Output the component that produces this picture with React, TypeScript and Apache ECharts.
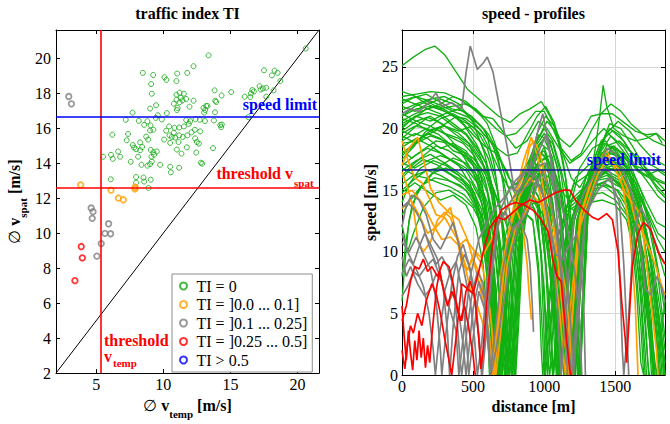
import React, { useEffect, useRef } from "react";
import * as echarts from "echarts";

type Pt = [number, number];

// ---------------- Left panel: traffic index TI ----------------
// [mean temporal speed, mean spatial speed] in m/s
const tiZero: Pt[] = [
  [13.37, 20.15], [12.25, 19.53], [8.47, 19.15], [9.24, 19.03], [10.08, 18.9], [10.23, 18.75], [11.03, 19.11], [10.98, 18.68],
  [11.78, 19.15], [9.09, 18.51], [9.14, 17.96], [10.98, 17.9], [11.21, 18.01], [11.53, 17.96], [11.3, 17.73], [11.7, 17.66],
  [11.43, 17.58], [10.98, 17.62], [10.78, 17.39], [11.21, 17.47], [11.06, 17.15], [11.01, 17.03], [11.95, 17.22], [12.25, 17.56],
  [12.99, 17.15], [13.12, 17.03], [13.29, 17.26], [13.04, 16.88], [12.72, 16.47], [12.4, 16.51], [12.0, 16.39], [11.7, 16.45],
  [11.9, 16.24], [11.53, 16.09], [11.18, 16.03], [10.83, 16.01], [10.43, 16.09], [10.26, 16.85], [9.46, 17.3], [9.01, 17.11],
  [7.7, 16.88], [7.2, 16.47], [8.17, 16.41], [8.57, 16.18], [9.04, 16.15], [8.81, 16.39], [9.44, 16.58], [9.59, 16.73],
  [9.89, 16.49], [9.01, 15.86], [9.26, 15.9], [10.21, 15.85], [10.78, 15.73], [10.63, 15.49], [10.51, 15.15], [10.88, 15.45],
  [11.18, 15.58], [11.45, 15.49], [11.78, 15.58], [12.1, 15.75], [12.35, 15.9], [12.75, 15.81], [12.37, 15.41], [12.65, 15.11],
  [11.13, 15.2], [11.01, 14.77], [11.35, 14.54], [10.46, 15.58], [10.06, 15.34], [8.72, 15.51], [8.87, 15.34], [8.27, 15.18],
  [7.37, 15.66], [7.27, 15.3], [6.2, 15.62], [7.72, 15.03], [7.82, 14.88], [7.97, 14.79], [8.27, 14.73], [8.42, 14.92],
  [8.12, 14.36], [9.06, 14.75], [9.26, 14.62], [9.51, 14.66], [9.31, 14.47], [9.11, 14.36], [9.14, 14.09], [9.01, 13.94],
  [8.82, 13.85], [8.37, 13.9], [7.57, 14.07], [9.76, 13.9], [10.51, 13.79], [10.56, 13.47], [11.18, 13.73], [12.89, 13.96],
  [6.63, 14.66], [6.78, 14.36], [6.1, 14.47], [6.23, 14.24], [5.51, 14.36], [6.08, 13.07], [7.97, 13.2], [8.52, 13.17],
  [9.06, 13.05], [7.97, 12.88], [8.57, 12.94], [8.89, 12.58], [20.61, 20.54], [17.5, 19.3], [18.29, 19.28], [18.52, 19.15],
  [18.09, 19.01], [18.72, 18.69], [17.17, 18.39], [17.25, 18.2], [17.42, 18.26], [17.67, 18.3], [16.63, 18.17], [16.75, 18.09],
  [16.53, 17.98], [16.48, 17.77], [16.06, 17.79], [17.67, 17.79], [18.22, 18.15], [15.06, 18.05], [13.82, 18.15], [14.34, 17.86],
  [13.87, 17.56], [13.94, 17.49], [13.77, 16.43], [16.33, 16.62], [14.24, 16.17], [14.31, 16.05], [14.36, 16.2], [13.7, 14.85],
  [12.8, 14.02], [13.1, 16.4], [13.85, 16.9], [13.19, 17.26], [12.5, 15.2], [12.45, 14.6], [11.75, 14.9],
];
const tiLow: Pt[] = [[3.84, 12.75], [6.1, 12.45], [6.65, 12.0], [7.02, 11.9], [7.9, 12.62], [7.88, 12.52]];
const tiMid: Pt[] = [
  [2.95, 17.8], [3.15, 17.38], [4.62, 11.43], [4.76, 11.22], [4.7, 10.84],
  [5.05, 8.68], [5.37, 9.4], [5.65, 9.98], [6.07, 9.96], [5.92, 10.53],
];
const tiHigh: Pt[] = [[3.88, 9.23], [3.96, 8.58], [3.41, 7.28]];
const tiTop: Pt[] = [];

const legendNames = ["TI = 0", "TI = ]0.0 ... 0.1]", "TI = ]0.1 ... 0.25]", "TI = ]0.25 ... 0.5]", "TI > 0.5"];

const leftRange = [2, 21.6];
const leftXTicks = [5, 10, 15, 20];
const leftYTicks = [2, 4, 6, 8, 10, 12, 14, 16, 18, 20];
const vTempThreshold = 5.3;
const vSpatThreshold = 12.6;
const speedLimit = 16.67;

// ---------------- Right panel: speed profiles [distance m, speed m/s] ----------------
const greenProfiles: Pt[][] = [
  [[0,19.2],[90,20.1],[180,20.9],[280,20.4],[380,19.5],[470,18.8],[550,16.5],[610,12],[660,5],[690,0],[720,4],[770,10.5],[840,15],[920,17.5],[990,16.2],[1050,11],[1090,3],[1110,0],[1150,7],[1220,13.5],[1310,16.5],[1420,17.8],[1530,16.8],[1620,14],[1700,9],[1760,3],[1790,0],[1830,4],[1850,6]],
  [[0,21.5],[100,22],[200,22.4],[300,22.6],[400,22],[500,20.5],[580,18],[640,15],[700,10],[740,4],[770,0],[790,3],[830,10],[880,15],[950,18.5],[1020,19.5],[1090,17],[1150,13],[1200,7],[1230,1],[1250,0],[1275,5],[1310,13.5],[1390,17],[1480,18.5],[1570,17],[1650,15],[1730,13],[1800,11],[1850,10]],
  [[0,17.5],[80,18.5],[170,19.8],[260,20.1],[350,19],[440,17.6],[520,16],[590,12.5],[630,7],[655,1],[670,0],[700,5],[750,11],[810,14.5],[880,16],[960,14.5],[1010,9],[1040,2],[1060,0],[1100,6],[1170,13],[1250,16.8],[1340,18.4],[1430,19],[1520,17.5],[1600,13],[1650,7],[1680,1],[1700,0]],
  [[0,22.6],[100,22.8],[200,23],[300,22.9],[400,22.4],[480,21.8],[560,21],[640,20.8],[720,19.6],[800,18.4],[880,19],[960,20.6],[1020,20],[1100,18.5],[1180,17.2],[1260,17.8],[1340,19],[1420,20],[1500,19],[1580,17.8],[1660,16.5],[1740,16],[1850,15.5]],
  [[0,25.1],[80,25.8],[160,26.4],[230,26.7],[300,26],[380,24.6],[460,23.2],[530,22.5],[600,21.8],[680,21],[760,20.5],[830,21.2],[900,21.6],[980,22.2],[1040,21],[1110,19.2],[1180,18.5],[1260,19.6],[1330,21],[1400,21.2],[1480,21.2],[1560,20.5],[1640,19.8],[1720,19.5],[1790,19.6],[1850,19]],
  [[0,20],[90,21],[180,21.3],[270,21],[360,20.2],[450,19.5],[540,18],[610,16],[670,12],[720,6],[750,2],[770,0],[790,4],[840,11],[900,15.5],[980,18],[1050,17],[1110,13],[1160,6],[1190,0],[1220,5],[1280,13.2],[1370,16],[1460,17.2],[1550,16],[1630,12],[1680,6],[1710,0]],
  [[0,18.5],[100,19.2],[200,18.6],[300,17.8],[400,17],[480,15.5],[550,12.5],[600,8],[630,2],[645,0],[670,4],[720,10],[790,13.5],[860,14],[930,13.5],[980,10],[1010,4],[1025,0],[1060,6],[1130,12.5],[1210,15.5],[1300,16.2],[1390,16.8],[1480,16],[1570,15],[1650,13.6],[1720,12.5],[1790,10.5],[1850,8]],
  [[0,16],[70,16.8],[150,17.5],[240,17.1],[330,16.4],[420,15.8],[510,14.8],[580,12],[620,7],[650,2],[665,0],[690,3],[740,9],[810,13],[870,15.5],[940,16],[1010,14],[1080,12.5],[1140,8],[1180,3],[1200,0],[1230,5],[1290,13],[1380,15.4],[1470,16],[1560,15],[1640,12.5],[1720,9],[1780,4],[1810,0]],
  [[0,21],[100,21.6],[200,21.8],[300,21.4],[400,20.8],[500,19.5],[580,18.6],[660,18],[740,16.5],[800,14.5],[860,15],[930,17.2],[1000,18.5],[1070,16],[1130,11],[1170,5],[1195,0],[1220,4],[1270,12],[1320,15.5],[1400,18],[1490,18.6],[1580,17.5],[1660,15],[1740,13],[1800,11.5],[1850,11]],
  [[0,19.8],[80,19.4],[170,20],[260,19.5],[350,18.6],[440,18],[520,17],[590,15.5],[650,12],[700,7.5],[740,2],[755,0],[780,3],[820,10],[870,14.2],[940,16.5],[1010,15.6],[1070,12],[1120,6],[1150,1],[1165,0],[1200,6],[1260,13.5],[1340,17],[1420,18.8],[1510,18.2],[1600,16.5],[1680,14],[1750,9],[1800,3],[1820,0]],
  [[0,14],[50,15.5],[130,16.8],[220,17.4],[310,17],[400,16.2],[480,15],[550,13],[610,9],[650,4],[675,0],[700,2],[750,8.5],[810,12.5],[880,13.8],[950,14],[1000,11],[1040,5],[1065,0],[1100,4],[1160,11],[1240,14.5],[1330,15.2],[1420,15.6],[1510,15],[1590,13.5],[1660,10],[1710,4],[1735,0]],
  [[0,20.8],[100,20.4],[190,19.8],[280,20.2],[370,20.9],[460,20.4],[540,19.2],[610,17.5],[670,15],[720,11],[755,4],[775,0],[795,5],[830,12],[880,16.5],[960,19.5],[1040,19],[1100,16.5],[1150,12],[1200,5],[1220,0],[1250,6],[1300,14],[1380,17.8],[1470,19.4],[1560,18.5],[1640,17],[1720,15.8],[1800,14.5],[1850,14]],
  [[0,17],[90,17.8],[180,18.4],[270,18],[360,17.3],[450,16.6],[530,15],[600,12.5],[650,8],[690,2.5],[705,0],[730,5],[780,11.5],[840,14.5],[910,15.4],[980,14],[1040,9.5],[1080,3],[1095,0],[1130,5],[1190,12],[1260,14.5],[1350,16],[1440,16.4],[1530,15.8],[1620,14.6],[1700,12],[1770,8],[1830,3],[1850,1]],
  [[0,22.2],[90,22.6],[180,22.3],[270,21.9],[360,21.4],[450,21],[540,20.4],[610,19.5],[680,18],[740,15.5],[800,13.5],[860,14.2],[930,16],[1000,16.8],[1060,14],[1110,8],[1140,2],[1150,0],[1180,4],[1240,12],[1300,15],[1380,17],[1470,17.5],[1560,16.8],[1650,15.5],[1720,13],[1790,9],[1840,4],[1850,3]],
  [[0,18.2],[70,17.6],[150,18.3],[240,19],[330,18.8],[420,18],[500,17],[570,14.5],[620,10],[655,4],[670,0],[695,5],[740,11],[800,14],[870,15],[950,13],[1000,7],[1030,1],[1040,0],[1075,6],[1140,13],[1220,16],[1310,17],[1400,17.6],[1490,17],[1580,15.6],[1650,12.5],[1700,7],[1730,1],[1740,0]],
  [[0,15.5],[80,16.2],[170,16],[260,15.6],[350,15.2],[440,14.6],[520,13.5],[580,11],[620,6.5],[640,2],[650,0],[680,5],[730,10.5],[790,13],[860,13.2],[920,12.5],[960,9],[990,3],[1000,0],[1030,5],[1090,11],[1170,14],[1260,15],[1350,15.6],[1440,15.2],[1530,14.3],[1610,12.5],[1670,8],[1710,2],[1720,0]],
  [[0,20.4],[100,21],[200,20.6],[300,21.2],[400,21.6],[490,21],[570,20],[640,18.6],[710,16],[770,12.5],[820,11.5],[880,13],[950,16],[1020,17.2],[1090,15],[1150,10],[1190,4],[1210,0],[1240,4],[1290,13],[1370,16.5],[1460,18],[1550,17.6],[1640,16],[1720,14],[1790,12.4],[1850,12]],
  [[0,19],[90,19.6],[180,19.2],[270,18.4],[360,18.8],[450,18.2],[530,16.8],[600,14.8],[650,11],[690,6],[720,1.5],[730,0],[755,4],[800,11],[860,14.6],[940,17],[1010,17.6],[1080,15.2],[1130,10.6],[1170,4.5],[1185,0],[1215,5],[1270,13.2],[1350,16],[1440,16.6],[1530,16],[1620,13.8],[1690,10],[1750,5],[1780,0]],
  [[0,13],[60,14.2],[140,15.4],[230,16],[320,15.8],[410,15.4],[490,14.5],[560,13],[620,10],[660,5.5],[685,1],[695,0],[720,4],[770,10],[830,13.4],[900,14.6],[970,13.2],[1020,8],[1055,2],[1065,0],[1100,5],[1160,11.5],[1230,14],[1320,14.6],[1410,14.8],[1500,14.2],[1580,13],[1650,10.5],[1710,6],[1760,1],[1775,0]],
  [[0,21.8],[90,21.4],[180,22],[270,22.4],[360,22],[450,21.2],[530,20.2],[600,19.2],[670,18.4],[740,17.8],[810,18],[880,19.5],[950,21],[1010,21.8],[1070,20.5],[1130,18],[1190,16],[1250,15.2],[1320,16.6],[1390,18.6],[1460,20],[1530,19.5],[1600,18.2],[1680,17.4],[1760,17],[1850,16.4]],
  [[0,17.8],[80,18.6],[160,19.4],[250,19.9],[340,19.3],[430,18.8],[510,17.8],[580,16],[640,13],[690,8],[720,3],[735,0],[760,3.5],[800,10.5],[850,14],[920,16],[990,15.2],[1050,12.5],[1100,7],[1130,1],[1140,0],[1170,5],[1230,12.5],[1300,15.4],[1390,16.6],[1480,17],[1570,16.2],[1650,13],[1710,8],[1760,2],[1770,0]],
  [[0,16.6],[100,17.4],[200,17.9],[300,17.2],[400,16.4],[490,15.6],[560,14],[610,11.2],[650,6],[670,2],[680,0],[710,4.5],[760,10],[820,13.2],[890,14.4],[960,13.8],[1020,10.5],[1070,5],[1100,0],[1135,5],[1200,12.4],[1280,15],[1370,15.8],[1460,16],[1550,15.5],[1630,13.2],[1690,9],[1740,3],[1755,0]],
  [[0,22],[80,22.5],[170,22.8],[260,22.2],[350,21.6],[440,21.4],[520,20.6],[590,19.8],[650,17],[700,12.5],[740,6.5],[770,1],[780,0],[800,3.5],[830,10.5],[880,15.5],[950,19],[1020,20.6],[1090,19.6],[1150,16],[1200,10],[1230,3],[1245,0],[1270,5],[1310,13.5],[1380,18],[1460,20.4],[1540,20],[1620,18.6],[1700,17],[1780,15.5],[1850,14.6]],
  [[0,12.2],[40,10],[80,11.5],[150,13.6],[240,14.8],[330,15],[420,14.4],[500,13.6],[570,12],[620,8.5],[650,3],[660,0],[690,4],[740,9.8],[800,12.5],[860,13.2],[920,12.6],[960,8],[980,2],[990,0],[1020,5],[1080,10.5],[1150,13.2],[1230,13.8],[1320,14],[1410,14.2],[1500,13.8],[1580,12.6],[1640,9.5],[1680,4],[1700,0]],
  [[0,8],[30,11],[70,13.8],[130,15.2],[220,16.4],[310,16.8],[400,16.2],[490,15.2],[560,13.4],[610,10],[640,5],[660,1],[665,0],[695,5],[745,10.8],[810,14],[880,16],[960,16.6],[1030,14.4],[1080,9],[1110,3],[1120,0],[1155,6],[1220,13.4],[1300,16.2],[1390,17.2],[1480,17.4],[1570,16.4],[1650,13.4],[1710,8.5],[1750,3],[1765,0]],
  [[0,6],[20,9],[50,12.6],[100,14.6],[180,16],[270,17],[360,17.6],[450,17.2],[530,16.2],[600,14],[650,10.5],[690,5.5],[710,1.5],[720,0],[745,4.5],[790,11],[850,14.5],[920,16.8],[990,17],[1060,13.6],[1110,8],[1145,2],[1155,0],[1185,5],[1245,13],[1320,16.4],[1410,18],[1500,18],[1590,16.6],[1670,13.6],[1730,9],[1790,3.5],[1810,0]],
  [[0,19.6],[90,20.2],[180,20],[270,20.8],[360,21.2],[450,20.6],[530,19.8],[600,18.4],[660,16],[710,12],[750,7],[780,2],[790,0],[810,4.5],[845,12],[900,16],[970,18.8],[1040,18.2],[1100,15],[1150,9.5],[1190,3],[1205,0],[1235,5.5],[1290,13.8],[1360,18.4],[1390,21],[1415,23.5],[1440,21.8],[1490,20],[1560,19.4],[1640,19],[1720,19.2],[1790,19.6],[1830,18.8]],
  [[0,18.8],[100,19],[200,19.8],[300,20.2],[400,19.6],[490,18.6],[560,17.4],[620,15.8],[680,14],[740,12],[790,10.5],[840,11.5],[900,14],[970,16.5],[1040,16],[1100,13.5],[1150,9],[1190,3.5],[1205,0],[1230,3],[1275,11],[1320,14.6],[1400,16.2],[1490,16.8],[1580,16.4],[1660,14],[1730,10.5],[1790,6],[1840,1.5],[1850,0]],
  [[0,20.6],[90,21.2],[180,21.6],[270,21.2],[360,20.4],[450,19.6],[530,18.4],[600,17],[650,14.5],[690,10.5],[720,5],[745,0],[770,5],[810,12],[860,16],[930,18.6],[1000,20],[1060,19],[1120,16.6],[1180,13.6],[1230,13.2],[1300,15],[1380,17.4],[1470,18.6],[1560,18],[1640,16.8],[1720,16.2],[1800,16.6],[1850,16.2]],
  [[0,16.8],[90,16.2],[180,16.6],[270,16.2],[360,15.6],[450,15],[520,13.6],[570,11],[610,6.5],[635,1.5],[645,0],[670,4],[715,9.6],[780,12.6],[850,13.8],[920,14.6],[990,13],[1040,8.5],[1075,2],[1085,0],[1120,5],[1180,11.4],[1250,14],[1340,15],[1430,15.4],[1520,15],[1600,13.8],[1660,11],[1720,7],[1760,2],[1775,0]],
  [[0,23],[80,22.7],[170,22],[260,21.6],[350,21.8],[440,22],[520,21.6],[590,20.8],[660,20],[730,19.4],[800,19.6],[870,20.4],[940,21.4],[1000,21.4],[1060,20],[1120,18.4],[1190,17.4],[1260,18],[1330,19.8],[1400,21.2],[1470,22],[1540,21.4],[1610,20.4],[1690,19.6],[1770,19],[1850,18.6]],
  [[0,19.4],[100,18.8],[200,19.4],[300,19],[400,18.4],[500,17.6],[570,16.6],[640,15.2],[700,13],[750,9.5],[780,4.5],[800,0],[820,4],[850,11],[900,15],[970,17.4],[1040,17.8],[1100,15.6],[1160,11.4],[1210,5],[1235,0],[1260,4],[1300,12.8],[1370,15.8],[1460,16.8],[1550,16.2],[1630,14.8],[1700,12.6],[1760,9.6],[1820,5],[1850,2]],
  [[0,14.8],[90,15.6],[180,14.9],[270,14.2],[360,14.6],[450,13.8],[520,12],[570,9],[600,4.5],[615,0],[640,4],[690,9.5],[760,12.8],[830,14],[900,15.2],[950,14],[980,9],[1000,3],[1010,0],[1040,4],[1100,10.5],[1180,13.6],[1270,14.6],[1360,15.4],[1450,15.8],[1540,15.2],[1620,14],[1690,11.6],[1750,8],[1800,4],[1830,0]],
  [[0,21.2],[100,20.6],[200,21],[300,20.2],[400,19.8],[490,20.2],[570,19.4],[630,18],[690,16.5],[750,15.2],[810,15.6],[870,17],[940,18],[1010,17.8],[1070,16.2],[1130,14.8],[1190,14],[1250,14.6],[1320,16],[1400,17.6],[1480,18],[1560,17.6],[1640,17],[1720,16.6],[1800,15.6],[1850,15]],
  [[0,18],[90,18.8],[180,19.6],[270,19.2],[360,18.2],[450,17.8],[530,16.6],[590,14],[640,9.5],[670,4],[685,0],[710,4.5],[760,11],[820,14.8],[890,16.8],[960,17.8],[1030,16.4],[1090,11.5],[1130,5],[1150,0],[1180,4.5],[1240,12.8],[1310,15.8],[1400,17],[1490,17.6],[1580,16.8],[1660,14.6],[1730,11],[1790,6.5],[1840,1],[1850,0]],
  [[0,20.2],[80,20.8],[170,21.6],[260,21.8],[350,21.2],[440,20.2],[520,18.8],[590,17.2],[650,14],[700,9],[730,3.5],[745,0],[770,3],[810,10],[860,15],[930,18],[1000,19.2],[1060,17.6],[1110,13],[1150,7],[1175,1],[1185,0],[1215,4],[1265,12.5],[1320,16.6],[1400,19],[1480,19.8],[1560,19],[1640,17.6],[1720,16.4],[1800,15],[1850,14.4]],
  [[0,15],[80,15.8],[170,16.6],[260,16.8],[350,16.2],[440,15.4],[510,14.4],[570,12.6],[620,9],[655,3.5],[670,0],[700,4],[750,10.4],[810,13.6],[880,15.2],[950,15.6],[1010,13],[1060,7.5],[1090,2],[1100,0],[1130,4],[1190,11.8],[1260,14.6],[1350,15.8],[1440,16.2],[1530,15.6],[1610,13.8],[1670,10.5],[1720,6],[1760,1.5],[1770,0]],
  [[0,22.4],[90,22],[180,21.6],[270,22],[360,22.6],[450,22.2],[530,21.4],[600,20.4],[660,18.6],[710,15.6],[750,11],[780,5],[795,0],[815,4],[845,11.5],[890,16.4],[950,19.6],[1010,21],[1070,20.2],[1130,17.6],[1180,13.8],[1220,8],[1245,2],[1255,0],[1280,6],[1310,13.6],[1370,17.4],[1440,19.6],[1520,20.6],[1600,19.8],[1680,18.6],[1760,17.6],[1850,17]],
  [[0,19.8],[100,20.6],[200,20.2],[300,19.6],[400,19.2],[490,18.4],[570,17],[630,14.6],[680,10.6],[715,5],[740,0],[765,4],[805,11],[860,15.4],[930,17.6],[1000,18.2],[1060,16.4],[1110,12.6],[1150,6.6],[1170,1.5],[1178,0],[1205,4.5],[1260,12.8],[1330,16.2],[1420,17.8],[1510,18.4],[1600,17.2],[1680,15],[1750,12],[1810,8],[1850,5]],
  [[0,17.2],[90,16.8],[180,17.4],[270,17.8],[360,17.4],[450,16.8],[530,15.6],[600,13],[650,8.5],[680,3],[692,0],[720,4.8],[770,11],[830,14],[900,15.8],[970,16],[1030,13.2],[1070,8],[1100,2.5],[1110,0],[1140,4.5],[1200,12],[1270,15],[1360,16.2],[1450,16.8],[1540,16.4],[1620,15],[1690,12.6],[1750,9],[1800,4.6],[1840,0]],
  [[0,21],[90,21.8],[180,22.2],[270,21.6],[360,21],[450,20.8],[540,20],[620,19],[690,17.6],[750,16],[800,15.4],[860,16.6],[930,18.4],[1000,19.6],[1060,18.8],[1120,16.2],[1170,12],[1210,6.5],[1235,1.5],[1242,0],[1265,5],[1300,13.4],[1360,16.8],[1440,18.6],[1530,19],[1620,18],[1700,17],[1780,16],[1850,15.6]],
  [[0,16.2],[70,17],[150,17.8],[240,18.6],[330,18.2],[420,17.4],[500,16.4],[570,14.6],[620,11.6],[660,6.5],[685,2],[695,0],[725,4],[775,10.6],[835,14.2],[900,15.8],[970,16.2],[1040,14.8],[1090,10],[1125,4],[1140,0],[1170,4],[1230,12.6],[1300,15.6],[1390,16.8],[1480,17.2],[1570,16.6],[1650,14.6],[1720,11.6],[1780,7],[1830,2.5],[1845,0]],
];

const orangeProfiles: Pt[][] = [
  [[0,17],[50,18.4],[110,19.3],[150,17.5],[200,15.2],[260,14],[330,13.2],[400,12.6],[460,11],[520,8.5],[570,6],[610,3.5],[640,0.5],[650,0],[680,4],[730,10],[790,14],[850,17.2],[910,19.3],[960,17.5],[1010,14],[1060,11.2],[1100,9],[1140,4],[1165,0],[1190,4],[1260,13],[1330,15.6],[1400,17.6],[1440,18.2],[1490,17],[1550,15.4],[1600,12],[1640,6],[1660,0]],
  [[0,16.5],[40,15.2],[80,13.5],[110,11],[150,10],[200,10.8],[250,12.6],[300,13.2],[340,12.8],[390,11.2],[430,9.5],[460,8.5],[500,9.5],[550,8],[590,5.5],[620,2],[640,0],[680,5],[740,11],[800,13.6],[850,12],[880,9],[895,6.5],[910,4.5]],
  [[0,13.5],[60,14.2],[120,13],[180,11.5],[240,12],[300,12.8],[360,11.6],[400,10.8],[440,9],[480,7],[520,6],[560,4.5],[600,3],[630,1],[640,0],[660,3],[700,8.6],[760,12.2],[830,14.6],[900,16],[960,15.2],[1020,12.4],[1070,8.8],[1110,5],[1140,1],[1150,0],[1180,5],[1240,11.6],[1300,13.8],[1380,16.4],[1450,17.6],[1520,16.8],[1590,15],[1640,12.6],[1700,11.4],[1740,10.2],[1780,9],[1820,7.5],[1850,6.5]],
  [[0,19],[40,17.5],[90,16],[140,15.6],[190,14.4],[240,13],[290,12.8],[340,13.6],[380,11.6],[420,9],[460,8.5],[510,10],[560,9],[600,7],[630,4],[650,1],[660,0],[690,3],[740,9],[800,12],[860,13],[920,14.6],[980,13.8],[1030,12.2],[1070,11.8],[1110,9.6],[1150,7],[1185,3],[1200,0]],
  [[0,14.6],[70,15],[140,14],[210,12.4],[280,11],[340,11.2],[400,10.5],[450,11],[500,10.2],[560,9.5],[620,10.8],[680,12.2],[740,13.5],[800,14.8],[850,16],[900,18.6],[930,19],[970,18],[1010,16],[1060,13],[1100,9],[1130,5],[1160,1],[1170,0],[1200,5],[1250,12.8],[1320,15.4],[1380,17],[1420,18],[1470,17.4],[1520,16.2],[1570,14.8],[1620,14],[1680,13],[1720,9],[1760,5],[1790,2],[1800,0]],
];

const grayProfiles: Pt[][] = [
  [[0,21.2],[60,21.6],[120,21.4],[180,22],[240,22.9],[280,21.8],[350,22.1],[420,21.6],[450,24.5],[480,26.7],[530,24.8],[570,25.3],[600,25.8],[640,24.6],[690,21.5],[740,18.5],[790,15],[840,16],[900,17],[960,20],[990,21.2],[1030,19],[1080,14],[1120,9],[1160,4],[1190,0],[1230,5],[1290,13],[1380,15],[1460,16],[1530,14],[1560,9],[1580,4],[1595,0]],
  [[0,13.6],[40,14],[90,13.4],[140,12.4],[190,10.5],[240,9],[280,9.6],[320,8.8],[360,7.2],[390,4],[410,1],[420,0],[450,3],[490,6.4],[530,8.4],[570,7.5],[600,4],[620,0],[650,3],[700,8],[750,11],[800,12.2],[850,12.6],[900,13.6],[950,15.4],[990,16.6],[1030,15],[1080,12],[1120,8],[1150,3],[1165,0]],
  [[0,9.6],[30,8],[60,8.8],[110,7.4],[160,6.4],[200,7],[240,8.2],[280,7.6],[320,5.8],[360,6.6],[400,5],[430,2.5],[450,0],[470,2],[500,5.4],[540,7.6],[580,6.2],[610,3],[625,0]],
  [[0,11.5],[40,10],[80,9],[120,10.4],[160,11.5],[200,10.6],[250,9.4],[290,7],[320,3.5],[335,0],[360,4],[400,8.4],[440,9.8],[480,8.6],[520,5.8],[550,2],[565,0],[590,3],[630,8],[680,12.4],[730,13.2],[780,11.8],[830,12.4],[880,14],[930,15.6],[980,15.2],[1030,12.6],[1080,9.8],[1130,9.4],[1180,10.6],[1230,11.4],[1260,9],[1280,5],[1290,0]],
  [[0,6.4],[40,7.2],[80,8.4],[120,8],[170,8.8],[220,9.4],[260,8.2],[300,6.8],[340,8.4],[380,9.2],[420,7],[450,3.5],[470,0],[500,3],[540,6.8],[580,5.4],[610,2],[625,0],[660,2],[710,5.5],[770,10],[830,12.6],[880,11],[900,9],[915,6],[925,3.5]],
  [[0,12],[30,13.8],[70,14.6],[120,14.2],[170,13],[220,11],[270,10.2],[320,11.4],[360,12.4],[400,10.6],[440,8.2],[480,6],[510,3],[530,0],[560,2.5],[600,7.8],[650,11.6],[700,12.8],[760,14],[820,15],[880,16],[930,17.4],[980,18.6],[1010,19.5],[1040,18],[1090,15],[1140,13],[1180,11],[1220,8],[1250,4],[1265,0]],
  [[0,10.8],[50,10],[100,11.2],[150,9.8],[200,8.6],[240,6],[270,2],[280,0],[310,3.5],[350,7.4],[390,9.6],[430,10.6],[470,9],[510,6.6],[540,3],[560,0],[600,5],[650,10.6],[700,13.6],[760,15.2],[830,14.8],[900,15.6],[960,17],[1010,17.2],[1060,15.6],[1110,12.6],[1160,8],[1190,3.5],[1205,0],[1240,5],[1290,13],[1360,15.4],[1420,16.8],[1470,16.4],[1510,13.4],[1535,7],[1550,2],[1560,0],[1590,4],[1630,11.6],[1680,13.6],[1730,12.4],[1780,10.8],[1820,9.6],[1850,9]],
  [[0,8.2],[50,9.4],[100,8.6],[150,7.2],[190,5],[220,2],[235,0],[260,3],[300,6.4],[340,5.2],[380,3.6],[400,0],[430,3],[480,8],[540,11],[600,12.4],[660,13.6],[720,14.4],[800,15.8],[870,16.6],[940,16],[1000,14.4],[1050,11],[1090,6],[1110,2],[1120,0],[1150,5],[1210,12.8],[1280,14.8],[1360,16.4],[1440,18.4],[1500,18],[1560,16.4],[1620,14.6],[1670,11],[1710,7],[1750,6.5],[1790,8],[1830,7],[1850,6]],
];

const redProfiles: Pt[][] = [
  [[0,5.6],[15,3.2],[30,1.2],[45,3.6],[60,1.8],[75,0.4],[90,2.8],[105,1.2],[120,3.6],[135,1.4],[150,3],[165,0.6],[180,2.4],[195,1],[210,3.2],[225,5],[245,7.2],[265,8.4],[290,7],[320,5.6],[350,6.8],[380,6],[410,4.4],[440,5.6],[470,3.8],[500,1.6],[515,0]],
  [[0,4.4],[30,5.6],[60,7.6],[90,8.8],[120,8.6],[150,9.4],[180,8.4],[210,8.8],[250,8],[290,9.2],[330,8.8],[360,7.4],[390,5.2],[420,4.4],[450,6.8],[480,7.6],[510,6.4],[540,3],[555,0.5],[570,2],[600,6.4],[630,10],[660,12.4],[700,13.4],[750,13.8],[800,14],[860,13.8],[920,13.4],[980,12.6],[1030,11.6],[1060,9.4],[1090,8],[1120,7.6],[1140,5],[1160,2.6],[1180,0.4],[1190,0]],
  [[0,2],[20,0.5],[40,2.6],[60,4],[80,3.4],[110,5],[140,4],[170,6],[210,7.4],[240,6.6],[270,5],[300,3],[330,1.2],[350,0],[380,3],[420,7.4],[460,7],[500,6.6],[540,8.4],[580,10.4],[620,12],[670,12.8],[720,12.6],[780,13.2],[840,13.8],[900,14.2],[960,14],[1020,14.4],[1080,14.8],[1140,15],[1180,15],[1220,14.2],[1280,13.4],[1340,12.8],[1380,12.6],[1440,13.1],[1480,12.6],[1520,10],[1545,6],[1570,3],[1580,1],[1595,4],[1620,8.8],[1660,11.5],[1700,12.4],[1750,11.8],[1800,10],[1850,9]],
];

const rightXRange = [0, 1850];
const rightYRange = [0, 28];

// ---------------- styling ----------------
const FONT = '"Liberation Serif", "Times New Roman", serif';
const BLACK = "#000";
const GREEN = "#12b012";
const ORANGE = "#ffa000";
const GRAY = "#808080";
const RED = "#ff0000";
const BLUE = "#0000ff";

const nameRich = {
  n: { fontFamily: FONT, fontSize: 16, fontWeight: "normal", color: BLACK, lineHeight: 18, verticalAlign: "top" },
  b: { fontFamily: FONT, fontSize: 16, fontWeight: "bold", color: BLACK, lineHeight: 18, verticalAlign: "top" },
  s: { fontFamily: FONT, fontSize: 11, fontWeight: "bold", color: BLACK, padding: [11, 0, 0, 0], verticalAlign: "bottom" },
};

function frameAxis(gridIndex: number, position: string, range: number[], extra: any) {
  const base: any = {
    type: "value",
    gridIndex,
    position,
    min: range[0],
    max: range[1],
    axisLine: { show: true, onZero: false, lineStyle: { color: BLACK, width: 1 } },
    axisTick: { show: true, inside: true, length: 4, lineStyle: { color: BLACK, width: 1 } },
    axisLabel: { show: false },
    splitLine: { show: false },
  };
  return { ...base, ...extra };
}

const tickLabel = { show: true, fontFamily: FONT, fontSize: 16, color: BLACK, formatter: (v: number) => String(v) };

function buildOption() {
  const profileSeries = (profiles: Pt[][], color: string, width: number, tag: string, z: number) =>
    profiles.map((data, i) => ({
      type: "line",
      name: `${tag}-${i}`,
      xAxisIndex: 2,
      yAxisIndex: 2,
      data,
      symbol: "none",
      showSymbol: false,
      silent: true,
      z,
      emphasis: { disabled: true },
      lineStyle: { color, width },
      itemStyle: { color },
    }));

  const scatter = (name: string, data: Pt[], color: string, bw: number, size: number) => ({
    type: "scatter",
    name,
    xAxisIndex: 0,
    yAxisIndex: 0,
    data,
    symbol: "circle",
    symbolSize: size,
    silent: true,
    z: 4,
    itemStyle: { color: "rgba(0,0,0,0)", borderColor: color, borderWidth: bw },
  });

  const textEl = (text: string, x: number, y: number, fontSize: number, color: string, align: string) => ({
    type: "text",
    x,
    y,
    silent: true,
    z: 50,
    style: {
      text,
      font: `bold ${fontSize}px ${FONT}`,
      fill: color,
      align,
      textAlign: align,
      verticalAlign: "middle",
      textVerticalAlign: "middle",
    },
  });

  return {
    animation: false,
    backgroundColor: "#fff",
    grid: [
      { left: 56, top: 30, width: 263, height: 345, containLabel: false },
      { left: 402, top: 30, width: 263, height: 345, containLabel: false },
    ],
    xAxis: [
      frameAxis(0, "bottom", leftRange, {
        axisTick: { show: true, inside: true, length: 4, customValues: leftXTicks, lineStyle: { color: BLACK } },
        axisLabel: { ...tickLabel, customValues: leftXTicks, margin: 3 },
        name: "{n|\u2205 }{b|v}{s|temp}{b| [m/s]}",
        nameLocation: "middle",
        nameGap: 20,
        nameTextStyle: { rich: nameRich },
      }),
      frameAxis(0, "top", leftRange, {
        axisTick: { show: true, inside: true, length: 4, customValues: leftXTicks, lineStyle: { color: BLACK } },
      }),
      frameAxis(1, "bottom", rightXRange, {
        interval: 500,
        axisLabel: { ...tickLabel, margin: 3, showMaxLabel: false },
        splitLine: { show: true, lineStyle: { color: "#d6d6d6", width: 1 } },
        name: "distance [m]",
        nameLocation: "middle",
        nameGap: 23,
        nameTextStyle: { fontFamily: FONT, fontSize: 16, fontWeight: "bold", color: BLACK },
      }),
      frameAxis(1, "top", rightXRange, { interval: 500 }),
    ],
    yAxis: [
      frameAxis(0, "left", leftRange, {
        axisTick: { show: true, inside: true, length: 4, customValues: leftYTicks, lineStyle: { color: BLACK } },
        axisLabel: { ...tickLabel, customValues: leftYTicks, margin: 5 },
        name: "{n|\u2205 }{b|v}{s|spat}{b| [m/s]}",
        nameLocation: "middle",
        nameGap: 28,
        nameTextStyle: { rich: nameRich },
      }),
      frameAxis(0, "right", leftRange, {
        axisTick: { show: true, inside: true, length: 4, customValues: leftYTicks, lineStyle: { color: BLACK } },
      }),
      frameAxis(1, "left", rightYRange, {
        interval: 5,
        axisLabel: { ...tickLabel, margin: 4, showMaxLabel: false },
        splitLine: { show: true, lineStyle: { color: "#d6d6d6", width: 1 } },
        name: "speed [m/s]",
        nameLocation: "middle",
        nameGap: 22,
        nameTextStyle: { fontFamily: FONT, fontSize: 16, fontWeight: "bold", color: BLACK },
      }),
      frameAxis(1, "right", rightYRange, { interval: 5 }),
    ],
    legend: {
      data: legendNames,
      orient: "vertical",
      left: 172,
      top: 274,
      padding: [4, 5, 4, 7],
      itemGap: 2.5,
      itemWidth: 16,
      itemHeight: 7,
      icon: "circle",
      backgroundColor: "#fff",
      borderColor: "#8c8c8c",
      borderWidth: 1,
      borderRadius: 0,
      selectedMode: false,
      textStyle: { fontFamily: FONT, fontSize: 16, color: BLACK },
      itemStyle: { color: "rgba(0,0,0,0)", borderWidth: 2 },
      z: 10,
    },
    series: [
      {
        type: "line",
        name: "identity",
        xAxisIndex: 0,
        yAxisIndex: 0,
        data: [[leftRange[0], leftRange[0]], [leftRange[1], leftRange[1]]],
        symbol: "none",
        silent: true,
        z: 2,
        lineStyle: { color: BLACK, width: 1 },
        markLine: {
          symbol: ["none", "none"],
          silent: true,
          label: { show: false },
          emphasis: { disabled: true },
          data: [
            { xAxis: vTempThreshold, lineStyle: { color: RED, width: 1.6, type: "solid" } },
            { yAxis: vSpatThreshold, lineStyle: { color: RED, width: 1.6, type: "solid" } },
            { yAxis: speedLimit, lineStyle: { color: BLUE, width: 1.6, type: "solid" } },
          ],
        },
      },
      scatter(legendNames[0], tiZero, "#10a810", 1, 5),
      scatter(legendNames[1], tiLow, ORANGE, 1.8, 5.5),
      scatter(legendNames[2], tiMid, GRAY, 1.8, 5.5),
      scatter(legendNames[3], tiHigh, RED, 1.8, 5.5),
      scatter(legendNames[4], tiTop, BLUE, 1.8, 5.5),
      ...profileSeries(greenProfiles, GREEN, 1.35, "green", 2),
      ...profileSeries(orangeProfiles, ORANGE, 1.7, "orange", 3),
      ...profileSeries(grayProfiles, GRAY, 1.7, "gray", 3),
      ...profileSeries(redProfiles, RED, 1.7, "red", 3),
      {
        type: "line",
        name: "limit",
        xAxisIndex: 2,
        yAxisIndex: 2,
        data: [],
        silent: true,
        z: 5,
        markLine: {
          symbol: ["none", "none"],
          silent: true,
          label: { show: false },
          emphasis: { disabled: true },
          data: [{ yAxis: speedLimit, lineStyle: { color: "#14149a", width: 1.6, type: "solid" } }],
        },
      },
    ],
    graphic: [
      textEl("traffic index TI", 187.5, 13, 16, BLACK, "center"),
      textEl("speed - profiles", 533.5, 13, 16, BLACK, "center"),
      textEl("speed limit", 317, 104, 16, BLUE, "right"),
      textEl("threshold v", 293, 173.5, 16, RED, "right"),
      textEl("spat", 294, 182.5, 11, RED, "left"),
      textEl("threshold", 104, 340, 16, RED, "left"),
      textEl("v", 104, 356.5, 16, RED, "left"),
      textEl("temp", 113, 363, 11, RED, "left"),
      textEl("speed limit", 661, 159.5, 16, BLUE, "right"),
    ],
  };
}

export default function App() {
  const ref = useRef<HTMLDivElement>(null);
  useEffect(() => {
    if (!ref.current) return;
    const chart = echarts.init(ref.current, undefined, { renderer: "svg" });
    chart.setOption(buildOption() as any);
    return () => chart.dispose();
  }, []);
  return (
    <div
      ref={ref}
      style={{ position: "absolute", left: 0, top: 0, width: 670, height: 424, background: "#fff" }}
    />
  );
}
